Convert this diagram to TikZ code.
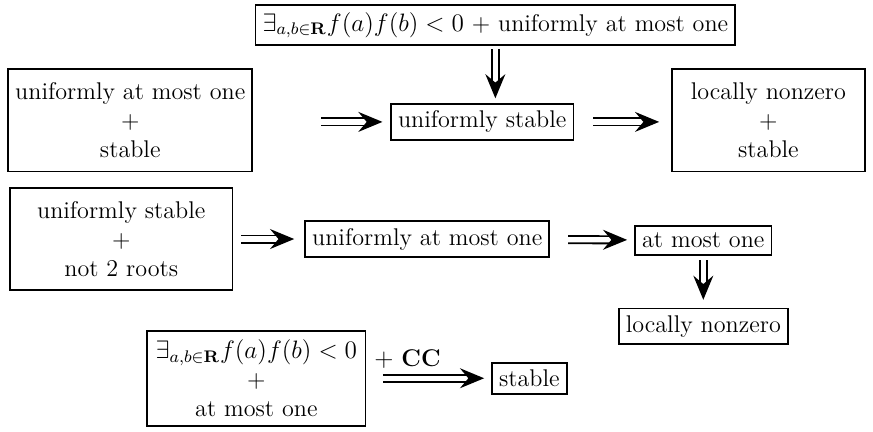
\documentclass[tikz,border=0pt]{standalone}
\usetikzlibrary{arrows.meta}

\tikzset{
	every node/.style={font=\fontsize{11.5pt}{13.8pt}\selectfont},
	box/.style={draw, rectangle, line width=0.8pt, align=center},
	bigbox/.style={box, minimum height=1.72cm},
	imp/.style={double, double distance=2.5pt, line width=0.9pt, -{Stealth[length=11.5pt, width=9.5pt, inset=4pt]}}
}

\begin{document}
\begin{tikzpicture}
		\useasboundingbox (0,0) rectangle (14.61,-7.215);
		
		% Row 1
		\node[box] (top) at (8.29,-0.42) {$\exists_{a,b\in\mathbf{R}} f(a)f(b) < 0$ + uniformly at most one};
		\node[bigbox, minimum width=4.02cm] (uamostab) at (2.18,-2.01) {uniformly at most one\\ +\\ stable};
		\node[box] (ustab) at (8.07,-2.04) {uniformly stable};
		\node[bigbox, minimum width=3.23cm] (lnzstab) at (12.86,-2.01) {locally nonzero\\ +\\ stable};
		
		% Row 2
		\node[bigbox, minimum width=3.72cm, minimum height=1.71cm] (ustabroots) at (2.03,-4.00) {uniformly stable\\ +\\ not 2 roots};
		\node[box] (uamo) at (7.15,-4.00) {uniformly at most one};
		\node[box] (amo) at (11.77,-4.02) {at most one};
		\node[box] (lnz) at (11.77,-5.46) {locally nonzero};
		
		% Row 3
		\node[bigbox, minimum width=3.65cm, minimum height=1.59cm] (signamo) at (4.29,-6.33) {$\exists_{a,b\in\mathbf{R}} f(a)f(b) < 0$\\ +\\ at most one};
		\node[box] (stab) at (8.86,-6.33) {stable};
		
		% Implications
		\draw[imp, shorten <=0.05cm, shorten >=0.08cm] (top) -- (top |- ustab.north);
		\draw[imp, shorten <=1.14cm, shorten >=0.13cm] (uamostab.east |- ustab) -- (ustab);
		\draw[imp, shorten <=0.32cm, shorten >=0.2cm] (ustab) -- (lnzstab.west |- ustab);
		\draw[imp, shorten <=0.13cm, shorten >=0.17cm] (ustabroots) -- (uamo);
		\draw[imp, shorten <=0.3cm, shorten >=0.12cm] (uamo) -- (amo);
		\draw[imp, shorten <=0.08cm, shorten >=0.13cm] (amo) -- (lnz);
		\draw[imp, shorten <=0.28cm, shorten >=0.12cm] (signamo) -- node[pos=0.33, above=1pt] {$+$ \textbf{CC}} (stab);
	\end{tikzpicture}
\end{document}
